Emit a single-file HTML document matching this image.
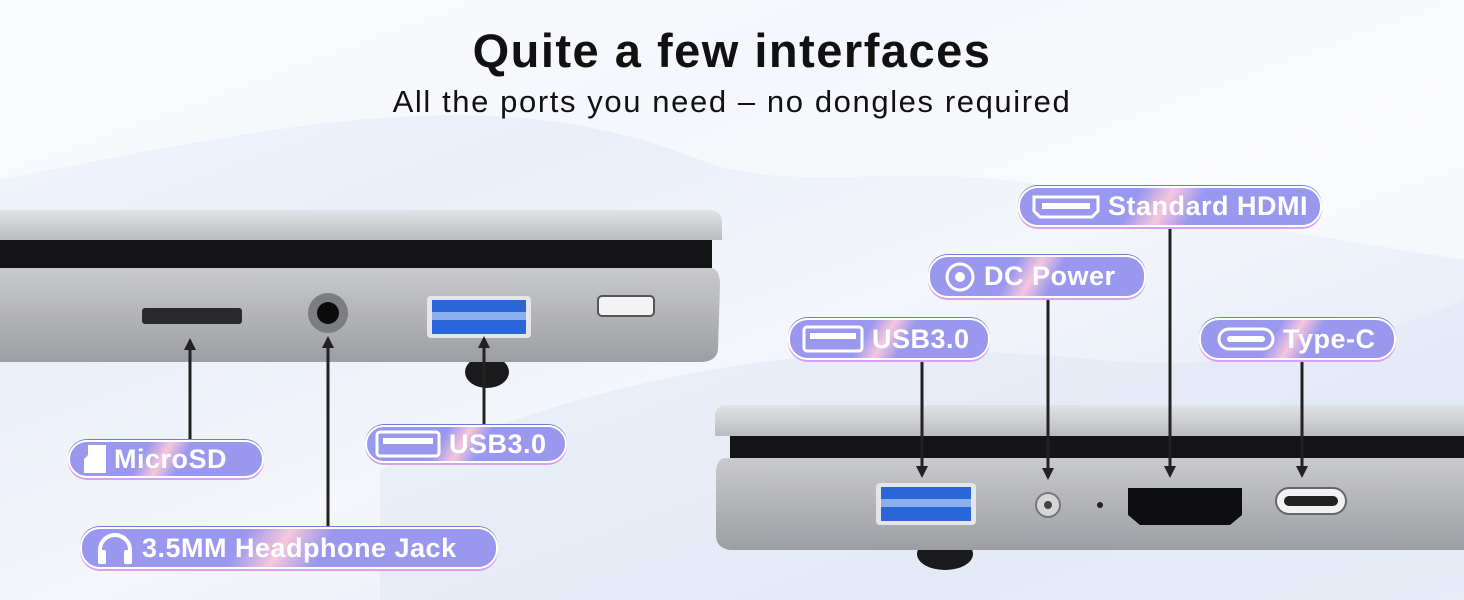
<!DOCTYPE html>
<html><head><meta charset="utf-8"><style>
html,body{margin:0;padding:0}
body{width:1464px;height:600px;overflow:hidden;position:relative;font-family:"Liberation Sans",sans-serif;
background:linear-gradient(160deg,#f7f9fd 0%,#e9eef8 30%,#f4f6fb 55%,#e6ecf7 80%,#eef2fa 100%)}
.t{position:absolute;left:0;width:1464px;text-align:center;color:#111}
.pill{position:absolute;height:38px;border-radius:20px;border:2px solid #fff;box-shadow:0 2px 0 #d9a0f0, 0 -1px 0 #6a7fd0;
background:linear-gradient(120deg,#9a98ee 0%,#9a98ee 38%,#f6c6dd 48%,#9a98ee 58%,#9a98ee 100%);
color:#fff;font-weight:bold;font-size:27px;letter-spacing:0.5px;display:flex;align-items:center;box-sizing:border-box;padding-left:14px;white-space:nowrap}
.pill svg{margin-right:8px}
</style></head><body>
<svg width="1464" height="600" style="position:absolute;left:0;top:0">
<defs>
<linearGradient id="lid" x1="0" y1="0" x2="0" y2="1"><stop offset="0" stop-color="#e2e3e6"/><stop offset="1" stop-color="#b9bbbf"/></linearGradient>
<linearGradient id="body" x1="0" y1="0" x2="0" y2="1"><stop offset="0" stop-color="#c9cacd"/><stop offset=".5" stop-color="#b3b4b8"/><stop offset="1" stop-color="#9c9ea3"/></linearGradient>
<marker id="a" markerUnits="userSpaceOnUse" markerWidth="12" markerHeight="12" refX="2" refY="6" orient="auto"><path d="M0,0 L12,6 L0,12z" fill="#222"/></marker>
</defs>
<path d="M0,180 C300,120 500,80 700,160 C800,200 950,150 1100,200 L1464,260 L1464,0 L0,0z" fill="#ffffff" opacity=".5"/>
<path d="M380,470 C600,380 800,330 1100,360 C1250,375 1400,330 1464,300 L1464,600 L380,600z" fill="#dfe6f4" opacity=".5"/>
<!-- left laptop -->
<ellipse cx="487" cy="372" rx="22" ry="16" fill="#1a1a1c"/>
<path d="M0,210 L712,210 Q722,212 722,222 L722,240 L0,240z" fill="url(#lid)"/>
<rect x="0" y="240" width="712" height="30" fill="#141416"/>
<path d="M0,268 L712,268 Q720,270 720,285 L718,350 Q716,362 700,362 L0,362z" fill="url(#body)"/>
<rect x="142" y="308" width="100" height="16" rx="3" fill="#2a2a2c"/>
<circle cx="328" cy="313" r="20" fill="#7c7d80"/><circle cx="328" cy="313" r="11" fill="#0b0b0c"/>
<rect x="427" y="296" width="104" height="42" rx="4" fill="#e6e6e8"/><rect x="432" y="300" width="94" height="34" fill="#2b66d8"/><rect x="432" y="312" width="94" height="8" fill="#8ab0f0"/>
<rect x="598" y="296" width="56" height="20" rx="4" fill="#f4f4f4" stroke="#555" stroke-width="2"/>
<line x1="190" y1="440" x2="190" y2="348" stroke="#222" stroke-width="3" marker-end="url(#a)"/>
<line x1="328" y1="527" x2="328" y2="346" stroke="#222" stroke-width="3" marker-end="url(#a)"/>
<line x1="484" y1="425" x2="484" y2="346" stroke="#222" stroke-width="3" marker-end="url(#a)"/>
<!-- right laptop -->
<ellipse cx="945" cy="554" rx="28" ry="16" fill="#1a1a1c"/>
<path d="M725,405 L1464,405 L1464,436 L715,436 L715,415 Q716,406 725,405z" fill="url(#lid)"/>
<rect x="730" y="436" width="734" height="24" fill="#141416"/>
<path d="M725,458 L1464,458 L1464,550 L730,550 Q716,548 716,535 L716,470 Q718,458 725,458z" fill="url(#body)"/>
<rect x="876" y="483" width="100" height="42" rx="4" fill="#e6e6e8"/><rect x="881" y="487" width="90" height="34" fill="#2b66d8"/><rect x="881" y="499" width="90" height="8" fill="#8ab0f0"/>
<circle cx="1048" cy="505" r="12" fill="#d6d6d8" stroke="#777" stroke-width="2"/><circle cx="1048" cy="505" r="4" fill="#444"/>
<circle cx="1100" cy="505" r="3" fill="#222"/>
<path d="M1128,488 L1242,488 L1242,515 L1230,525 L1140,525 L1128,515z" fill="#0e0e10"/>
<rect x="1276" y="488" width="70" height="26" rx="13" fill="#f2f2f2" stroke="#666" stroke-width="2"/><rect x="1284" y="496" width="54" height="10" rx="5" fill="#222"/>
<line x1="922" y1="360" x2="922" y2="468" stroke="#222" stroke-width="3" marker-end="url(#a)"/>
<line x1="1048" y1="298" x2="1048" y2="470" stroke="#222" stroke-width="3" marker-end="url(#a)"/>
<line x1="1170" y1="227" x2="1170" y2="468" stroke="#222" stroke-width="3" marker-end="url(#a)"/>
<line x1="1302" y1="360" x2="1302" y2="468" stroke="#222" stroke-width="3" marker-end="url(#a)"/>
</svg>
<div class="t" style="top:23px;font-size:47px;font-weight:bold;letter-spacing:1.5px">Quite a few interfaces</div>
<div class="t" style="top:84px;font-size:31px;letter-spacing:1.6px">All the ports you need – no dongles required</div>

<div class="pill" style="left:68px;top:440px;width:196px"><svg width="22" height="28"><path d="M4,0 H22 V28 H0 V14 L4,10z" fill="#fff"/></svg>MicroSD</div>
<div class="pill" style="left:80px;top:527px;width:418px;height:42px"><svg width="38" height="32"><path d="M4,30 V18 A15,15 0 0 1 34,18 V30" fill="none" stroke="#fff" stroke-width="4"/><rect x="2" y="18" width="8" height="14" rx="2" fill="#fff"/><rect x="28" y="18" width="8" height="14" rx="2" fill="#fff"/></svg>3.5MM Headphone Jack</div>
<div class="pill" style="left:365px;top:425px;width:202px;padding-left:8px"><svg width="66" height="30"><rect x="2" y="3" width="62" height="24" rx="3" fill="none" stroke="#fff" stroke-width="3"/><rect x="8" y="9" width="50" height="6" fill="#fff"/></svg>USB3.0</div>
<div class="pill" style="left:788px;top:318px;width:202px;height:42px;padding-left:12px"><svg width="62" height="30"><rect x="2" y="3" width="58" height="24" rx="3" fill="none" stroke="#fff" stroke-width="3"/><rect x="8" y="9" width="46" height="6" fill="#fff"/></svg>USB3.0</div>
<div class="pill" style="left:928px;top:255px;width:218px;height:43px"><svg width="32" height="32"><circle cx="16" cy="16" r="13" fill="none" stroke="#fff" stroke-width="3"/><circle cx="16" cy="16" r="5" fill="#fff"/></svg>DC Power</div>
<div class="pill" style="left:1018px;top:186px;width:304px;height:41px;padding-left:12px"><svg width="68" height="24"><path d="M2,2 H66 V16 L60,22 H8 L2,16z" fill="none" stroke="#fff" stroke-width="3"/><rect x="10" y="8" width="48" height="6" fill="#fff"/></svg>Standard HDMI</div>
<div class="pill" style="left:1199px;top:318px;width:197px;height:42px;padding-left:16px"><svg width="58" height="26"><rect x="2" y="3" width="54" height="20" rx="10" fill="none" stroke="#fff" stroke-width="3"/><rect x="10" y="10" width="38" height="6" rx="3" fill="#fff"/></svg>Type-C</div>
</body></html>
